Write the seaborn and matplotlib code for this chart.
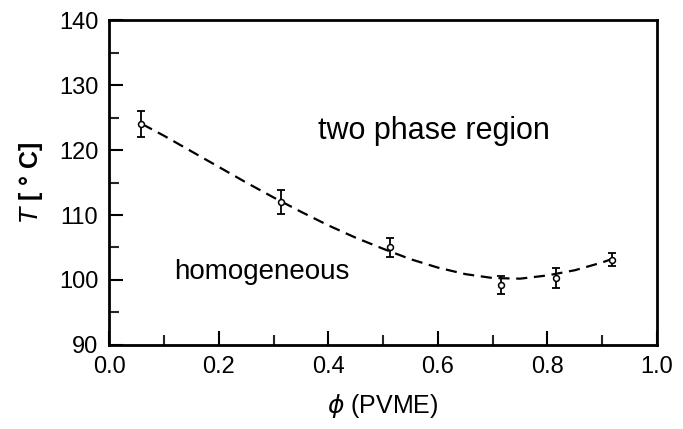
import matplotlib
matplotlib.use("Agg")
import matplotlib.pyplot as plt
import seaborn as sns
import pandas as pd
from matplotlib.ticker import MultipleLocator

# measured points
phi = [0.058, 0.313, 0.512, 0.716, 0.815, 0.917]
temp = [124.0, 112.0, 105.0, 99.2, 100.3, 103.1]
err = [2.0, 1.8, 1.4, 1.4, 1.5, 1.0]

# fitted curve
curve_phi = [0.06, 0.10, 0.15, 0.20, 0.25, 0.30, 0.35, 0.40, 0.45, 0.50,
             0.55, 0.60, 0.65, 0.70, 0.75, 0.80, 0.85, 0.90, 0.92]
curve_t = [124.0, 122.2, 119.8, 117.4, 115.0, 112.7, 110.5, 108.4, 106.5, 104.8,
           103.2, 101.9, 100.9, 100.3, 100.2, 100.7, 101.5, 102.7, 103.3]

xticks = [0.0, 0.2, 0.4, 0.6, 0.8, 1.0]
yticks = [90, 100, 110, 120, 130, 140]

sns.set_theme(style="ticks")
plt.rcParams['font.family'] = ['Liberation Sans', 'DejaVu Sans']
plt.rcParams['text.color'] = 'black'
plt.rcParams['axes.labelcolor'] = 'black'

fig = plt.figure(figsize=(6.83, 4.29), dpi=100)
ax = fig.add_axes([0.160, 0.196, 0.802, 0.757])

cdf = pd.DataFrame({"phi": curve_phi, "T": curve_t})
sns.lineplot(data=cdf, x="phi", y="T", ax=ax, color="black", lw=1.6,
             linestyle=(0, (5, 3)), sort=True)

ax.errorbar(phi, temp, yerr=err, fmt="none", ecolor="black", elinewidth=1.3,
            capsize=3, capthick=1.3, zorder=3)
pdf = pd.DataFrame({"phi": phi, "T": temp})
sns.scatterplot(data=pdf, x="phi", y="T", ax=ax, marker="o", s=18,
                facecolor="white", edgecolor="black", linewidth=1.1, zorder=4)

ax.set_xlim(0, 1.0)
ax.set_ylim(90, 140)
ax.set_xticks(xticks)
ax.set_yticks(yticks)
ax.set_xticklabels([f"{v:.1f}" for v in xticks])
ax.set_yticklabels([str(v) for v in yticks])
ax.xaxis.set_minor_locator(MultipleLocator(0.1))
ax.yaxis.set_minor_locator(MultipleLocator(5))
ax.tick_params(which="major", direction="in", length=10, width=1.5,
               labelsize=17, colors="black", pad=8, top=False, right=False)
ax.tick_params(which="minor", direction="in", length=7, width=1.5,
               top=False, right=False)
for s in ax.spines.values():
    s.set_visible(True)
    s.set_linewidth(2)
    s.set_color("black")

ax.set_xlabel(r"$\phi$ (PVME)", fontsize=18, labelpad=10, color="black")
ax.set_ylabel(r"$T$ [ ° C]", fontsize=18, labelpad=10, fontweight="bold",
              color="black")

ax.text(0.593, 123.0, "two phase region", fontsize=22, ha="center",
        va="center", color="black")
ax.text(0.279, 101.2, "homogeneous", fontsize=20, ha="center", va="center",
        color="black")

fig.savefig("out.png", dpi=100, facecolor="white")
